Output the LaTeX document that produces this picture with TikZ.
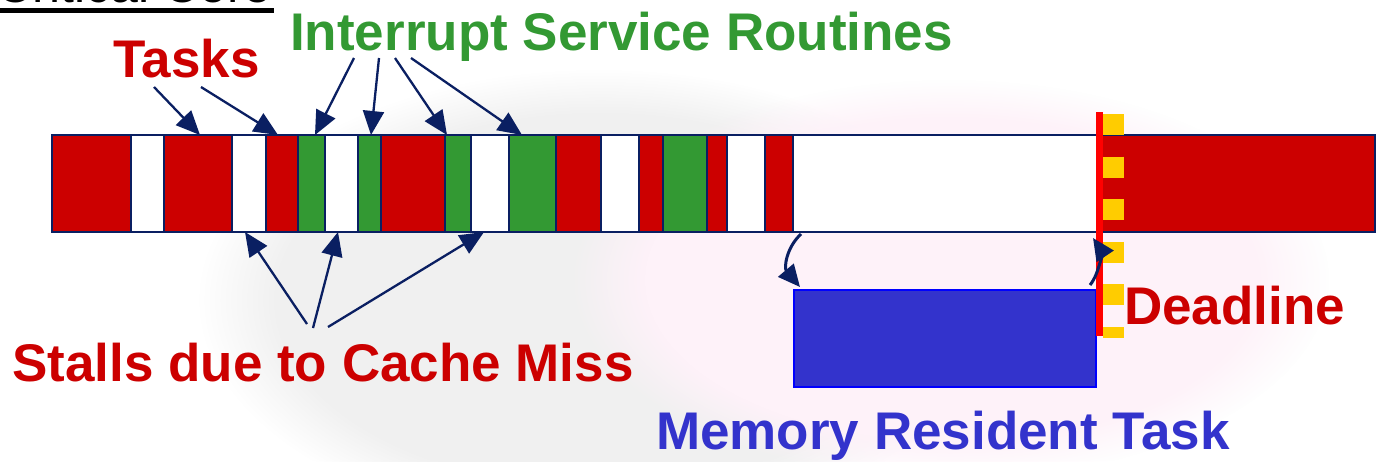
\documentclass[tikz,border=0pt]{standalone}
\usepackage{fontspec}
\setmainfont{Liberation Sans}
\usetikzlibrary{arrows.meta,calc,fadings}
\definecolor{tred}{HTML}{CC0000}
\definecolor{tgreen}{HTML}{339933}
\definecolor{navy}{HTML}{0A1F62}
\definecolor{mblue}{HTML}{3333CC}
\definecolor{dyellow}{HTML}{FFCC00}
\definecolor{dred}{HTML}{FF0000}
\begin{document}
\begin{tikzpicture}[x=1pt,y=-1pt,
  seg/.style={draw=navy, line width=2.5pt, minimum height=97pt, inner sep=0pt, outer sep=0pt, anchor=north west},
  lbl/.style={font=\fontsize{53}{60}\selectfont\bfseries, inner sep=0pt, anchor=base west},
  ptr/.style={draw=navy, line width=2.3pt, -{Triangle[length=24pt,width=21pt]}},
  cptr/.style={draw=navy, line width=3pt, -{Triangle[length=22pt,width=20pt]}},
]
\useasboundingbox (0,0) rectangle (1376,461);
\fill[white] (0,0) rectangle (1376,461);
\begin{scope}
\clip (0,0) rectangle (1376,461);
\fill[black!6, path fading=circle with fuzzy edge 20 percent] (600,300) ellipse [x radius=400pt, y radius=230pt];
\fill[magenta!5, path fading=circle with fuzzy edge 20 percent] (950,280) ellipse [x radius=380pt, y radius=200pt];
% cut-off title at top left
\node[font=\fontsize{50}{56}\selectfont, inner sep=0pt, anchor=base east] (title) at (272,2) {Critical Core};
\end{scope}
\draw[black, line width=5pt] (0,10.5) -- (274,10.5);

% bar segments
\foreach \a/\b/\c/\n in {52/131/tred/s1, 131/164/white/s2, 164/232/tred/s3, 232/266/white/s4,
  266/298/tred/s5, 298/325/tgreen/s6, 325/358/white/s7, 358/381/tgreen/s8, 381/445/tred/s9,
  445/471/tgreen/s10, 471/509/white/s11, 509/556/tgreen/s12, 556/601/tred/s13, 601/639/white/s14,
  639/663/tred/s15, 663/707/tgreen/s16, 707/727/tred/s17, 727/765/white/s18, 765/793/tred/s19,
  793/1099/white/s20, 1099/1375/tred/s21}
  \node[seg, fill=\c, minimum width={(\b-\a)*1pt}] (\n) at (\a,135) {};

% memory resident task box
\node[draw=blue, fill=mblue, line width=2pt, minimum width=302pt, minimum height=97pt,
  anchor=north west, inner sep=0pt] (mrt) at (793,289) {};

% deadline
\draw[dyellow, line width=21pt, dash pattern=on 21pt off 21.6pt] (1113.5,114) -- (1113.5,338);
\draw[dred, line width=7pt] (1099.5,112) -- (1099.5,336);

% labels
\node[lbl, text=tred] (tasks) at (113,77) {Tasks};
\node[lbl, text=tgreen] (isr) at (290,50) {Interrupt Service Routines};
\node[lbl, text=tred] (stalls) at (12,381) {Stalls due to Cache Miss};
\node[lbl, text=mblue] (mem) at (656,449) {Memory Resident Task};
\node[lbl, text=tred] (dl) at (1124,324) {Deadline};

% task arrows
\draw[ptr] ([shift={(41,10)}]tasks.base west) -- ([xshift=36pt]s3.north west);
\draw[ptr] ([shift={(88,10)}]tasks.base west) -- ([xshift=12pt]s5.north west);
% ISR arrows
\draw[ptr] ([shift={(64,8)}]isr.base west) -- ([xshift=17pt]s6.north west);
\draw[ptr] ([shift={(89,8)}]isr.base west) -- ([xshift=13pt]s8.north west);
\draw[ptr] ([shift={(105,8)}]isr.base west) -- ([xshift=2pt]s10.north west);
\draw[ptr] ([shift={(121,8)}]isr.base west) -- ([xshift=13pt]s12.north west);
% stall arrows
\draw[ptr] ([shift={(295,-57)}]stalls.base west) -- ([xshift=13pt]s4.south west);
\draw[ptr] ([shift={(301,-53)}]stalls.base west) -- ([xshift=13pt]s7.south west);
\draw[ptr] ([shift={(316,-54)}]stalls.base west) -- ([xshift=13pt]s11.south west);

% curved arrows
\draw[cptr] ([shift={(8,2)}]s20.south west) .. controls +(-15,14) and +(-16,-19) .. ([shift={(7,-2)}]mrt.north west);
\draw[cptr] ([shift={(-7,-4)}]mrt.north east) .. controls +(10,-12) and +(8,12) .. ([shift={(-6,6)}]s21.south west);
\end{tikzpicture}
\end{document}
